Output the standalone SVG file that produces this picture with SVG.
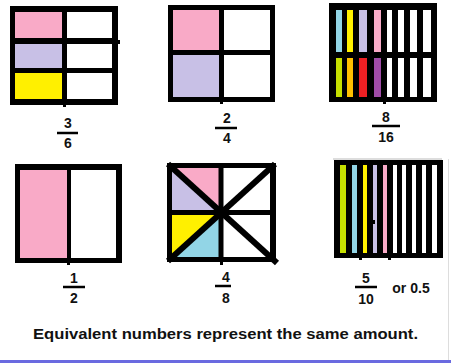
<svg xmlns="http://www.w3.org/2000/svg" width="451" height="363" viewBox="0 0 451 363">
<style>
.frame{fill:#000}
.w{fill:#fff}
.pk{fill:#f9aac7}
.lv{fill:#c8c0e6}
.yl{fill:#fff000}
.bl{fill:#92d5e6}
.gr{fill:#c6e000}
.or{fill:#ffc000}
.rd{fill:#ee2024}
.pu{fill:#a04ca8}
.num{font-family:"Liberation Sans",Arial,sans-serif;font-weight:bold;font-size:14px;fill:#111;text-anchor:middle}
.bar{stroke:#000;stroke-width:2.5}
.cap{font-family:"Liberation Sans",Arial,sans-serif;font-weight:bold;font-size:14px;fill:#111;text-anchor:middle}
</style>
<rect width="451" height="363" fill="#fff"/>
<g id="n-3-6">
<rect class="frame" x="10" y="6" width="108" height="99"/>
<rect class="pk" x="15" y="12" width="47" height="26"/>
<rect class="w" x="67" y="12" width="45" height="26"/>
<rect class="lv" x="15" y="44" width="47" height="24"/>
<rect class="w" x="67" y="44" width="45" height="24"/>
<rect class="yl" x="15" y="73" width="47" height="26"/>
<rect class="w" x="67" y="73" width="45" height="26"/>
<rect class="frame" x="117" y="40" width="3" height="4"/>
<rect class="frame" x="63" y="104" width="3" height="3"/>
<text class="num" x="68" y="128">3</text>
<line class="bar" x1="57" y1="133" x2="78" y2="133"/>
<text class="num" x="68" y="148">6</text>
</g>
<g id="n-2-4">
<rect class="frame" x="168" y="5" width="107" height="97"/>
<rect class="pk" x="173" y="10" width="46" height="40"/>
<rect class="w" x="224" y="10" width="46" height="40"/>
<rect class="lv" x="173" y="55" width="46" height="42"/>
<rect class="w" x="224" y="55" width="46" height="42"/>
<rect class="frame" x="220" y="101" width="3" height="3"/>
<text class="num" x="227" y="123">2</text>
<line class="bar" x1="215" y1="128" x2="237" y2="128"/>
<text class="num" x="227" y="143">4</text>
</g>
<g id="n-8-16">
<rect class="frame" x="329" y="3" width="108" height="99"/>
<rect class="bl" x="336" y="10" width="6" height="42"/>
<rect class="yl" x="347" y="10" width="6" height="42"/>
<rect class="lv" x="359" y="10" width="8" height="42"/>
<rect class="pk" x="374" y="10" width="7" height="42"/>
<rect class="w" x="387" y="10" width="5" height="42"/>
<rect class="w" x="398" y="10" width="6" height="42"/>
<rect class="w" x="410" y="10" width="7" height="42"/>
<rect class="w" x="423" y="10" width="8" height="42"/>
<rect class="gr" x="336" y="58" width="6" height="39"/>
<rect class="or" x="347" y="58" width="6" height="39"/>
<rect class="rd" x="359" y="58" width="8" height="39"/>
<rect class="pu" x="374" y="58" width="7" height="39"/>
<rect class="w" x="387" y="58" width="5" height="39"/>
<rect class="w" x="398" y="58" width="6" height="39"/>
<rect class="w" x="410" y="58" width="7" height="39"/>
<rect class="w" x="423" y="58" width="8" height="39"/>
<rect class="frame" x="383" y="101" width="3" height="3"/>
<text class="num" x="386" y="122">8</text>
<line class="bar" x1="372" y1="126" x2="400" y2="126"/>
<text class="num" x="386" y="142">16</text>
</g>
<g id="n-1-2">
<rect class="frame" x="15" y="164" width="107" height="99"/>
<rect class="pk" x="20" y="170" width="47" height="88"/>
<rect class="w" x="71" y="170" width="45" height="88"/>
<rect class="frame" x="67" y="262" width="3" height="3"/>
<text class="num" x="74" y="283">1</text>
<line class="bar" x1="63" y1="287" x2="85" y2="287"/>
<text class="num" x="74" y="303">2</text>
</g>
<g id="n-4-8">
<rect class="frame" x="167" y="163" width="109" height="99"/>
<rect class="w" x="172" y="168" width="98" height="89"/>
<polygon class="pk" points="172,168 221,168 221,212.5"/>
<polygon class="lv" points="172,168 172,212.5 221,212.5"/>
<polygon class="yl" points="172,212.5 221,212.5 172,257"/>
<polygon class="bl" points="221,212.5 221,257 172,257"/>
<g stroke="#000" fill="none">
<line x1="221" y1="165" x2="221" y2="260" stroke-width="5"/>
<line x1="170" y1="212.5" x2="273" y2="212.5" stroke-width="5"/>
<line x1="168" y1="164" x2="277" y2="263" stroke-width="6"/>
<line x1="275" y1="164" x2="168" y2="261" stroke-width="6"/>
</g>
<rect class="frame" x="220" y="261" width="3" height="4"/>
<text class="num" x="226" y="282">4</text>
<line class="bar" x1="215" y1="286" x2="231" y2="286"/>
<text class="num" x="226" y="303">8</text>
</g>
<g id="n-5-10">
<rect class="frame" x="334" y="160" width="109" height="98"/>
<rect class="gr" x="340" y="165" width="6" height="88"/>
<rect class="bl" x="352" y="165" width="5" height="88"/>
<rect class="yl" x="363" y="165" width="4" height="88"/>
<rect class="lv" x="373" y="165" width="4" height="88"/>
<rect class="pk" x="383" y="165" width="4" height="88"/>
<rect class="w" x="393" y="165" width="4" height="88"/>
<rect class="w" x="402" y="165" width="4" height="88"/>
<rect class="w" x="412" y="165" width="4" height="88"/>
<rect class="w" x="422" y="165" width="4" height="88"/>
<rect class="w" x="432" y="165" width="5" height="88"/>
<rect class="frame" x="372" y="220" width="3" height="4"/>
<rect class="frame" x="359" y="257" width="3" height="3"/>
<rect class="frame" x="388" y="257" width="3" height="3"/>
<text class="num" x="366" y="283">5</text>
<line class="bar" x1="355" y1="287" x2="377" y2="287"/>
<text class="num" x="366" y="304">10</text>
<text class="num" x="411" y="293">or 0.5</text>
</g>
<g id="connectors"></g>
<text class="cap" x="225.5" y="339" textLength="385" lengthAdjust="spacingAndGlyphs">Equivalent numbers represent the same amount.</text>
<line x1="333" y1="159" x2="442" y2="159" stroke="#bbb" stroke-width="1"/>
<line x1="448.5" y1="159" x2="448.5" y2="360" stroke="#ddd" stroke-width="1"/>
<rect x="0" y="360" width="451" height="3" fill="#6a6ae0"/>
</svg>
